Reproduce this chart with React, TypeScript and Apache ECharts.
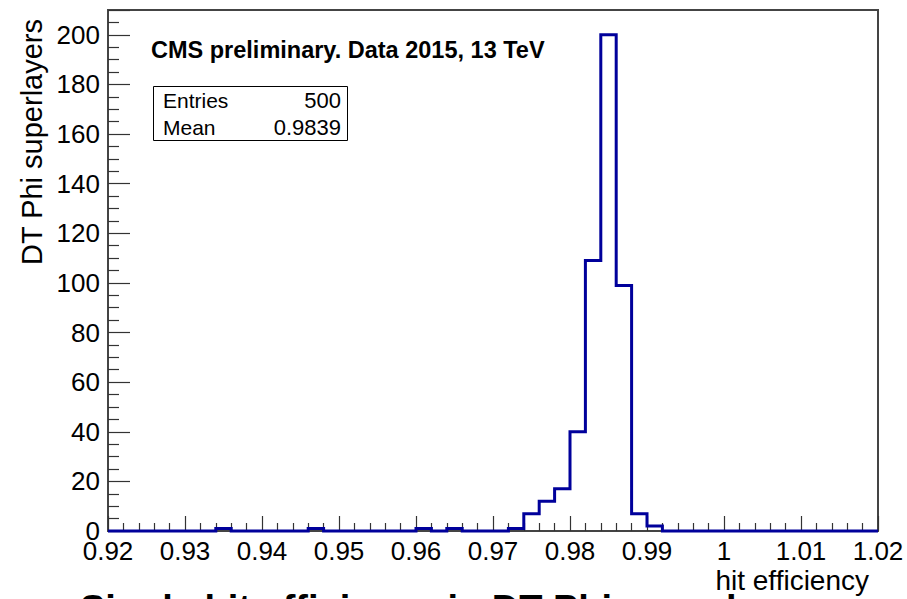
import React, { useEffect, useRef } from "react";
import * as echarts from "echarts";

// Histogram binning: 50 bins of width 0.002 from 0.92 to 1.02
const binStart = 0.92;
const binWidth = 0.002;
const counts = [
  0, 0, 0, 0, 0, 0, 0, 1, 0, 0,
  0, 0, 0, 1, 0, 0, 0, 0, 0, 0,
  1, 0, 1, 0, 0, 0, 1, 7, 12, 17,
  40, 109, 200, 99, 7, 2, 0, 0, 0, 0,
  0, 0, 0, 0, 0, 0, 0, 0, 0, 0,
];

const xTickLabels = ["0.92", "0.93", "0.94", "0.95", "0.96", "0.97", "0.98", "0.99", "1", "1.01", "1.02"];
const statsRows = [
  ["Entries", "500"],
  ["Mean", "0.9839"],
];

const FONT = "'Liberation Sans', Arial, Helvetica, sans-serif";

export default function App() {
  const ref = useRef<HTMLDivElement>(null);

  useEffect(() => {
    if (!ref.current) return;
    const chart = echarts.init(ref.current, null, { renderer: "svg" });

    // outline of the histogram: two corners per bin
    const outline: number[][] = [];
    counts.forEach((c, i) => {
      const lo = +(binStart + i * binWidth).toFixed(4);
      const hi = +(binStart + (i + 1) * binWidth).toFixed(4);
      outline.push([lo, c], [hi, c]);
    });

    const statsGraphics: any[] = [
      {
        type: "rect",
        shape: { x: 153.5, y: 86.5, width: 194, height: 54 },
        style: { fill: "none", stroke: "#000", lineWidth: 1 },
      },
    ];
    statsRows.forEach((row, k) => {
      const y = 100 + k * 27;
      statsGraphics.push(
        {
          type: "text",
          x: 163,
          y,
          style: { text: row[0], font: `21px ${FONT}`, fill: "#000", align: "left", verticalAlign: "middle" },
        },
        {
          type: "text",
          x: 341,
          y,
          style: { text: row[1], font: `22px ${FONT}`, fill: "#000", align: "right", verticalAlign: "middle" },
        }
      );
    });

    chart.setOption({
      animation: false,
      backgroundColor: "#fff",
      grid: {
        left: 108,
        right: 29,
        top: 10,
        bottom: 68,
        show: true,
        borderColor: "#444",
        borderWidth: 2,
        backgroundColor: "transparent",
      },
      xAxis: {
        type: "value",
        min: 0.92,
        max: 1.02,
        interval: 0.01,
        axisLine: { show: false },
        axisTick: { show: true, inside: true, length: 15, lineStyle: { color: "#333", width: 1.2 } },
        minorTick: { show: true, splitNumber: 5, length: 8, lineStyle: { color: "#333", width: 1.2 } },
        splitLine: { show: false },
        axisLabel: {
          margin: 7,
          color: "#000",
          fontFamily: FONT,
          fontSize: 26,
          formatter: (v: number) => {
            const idx = Math.round((v - 0.92) / 0.01);
            return xTickLabels[idx] ?? "";
          },
        },
      },
      yAxis: {
        type: "value",
        min: 0,
        max: 210,
        interval: 20,
        axisLine: { show: false },
        axisTick: { show: true, inside: true, length: 22, lineStyle: { color: "#333", width: 1.2 } },
        minorTick: { show: true, splitNumber: 4, length: 11, lineStyle: { color: "#333", width: 1.2 } },
        splitLine: { show: false },
        axisLabel: {
          margin: 8,
          color: "#000",
          fontFamily: FONT,
          fontSize: 26,
          formatter: (v: number) => (v > 200 ? "" : String(v)),
        },
      },
      series: [
        {
          type: "line",
          data: outline,
          showSymbol: false,
          symbol: "none",
          clip: false,
          lineStyle: { color: "#00009b", width: 3, join: "miter" },
          z: 5,
        },
      ],
      graphic: [
        {
          type: "text",
          x: 151,
          y: 50,
          style: {
            text: "CMS preliminary. Data 2015, 13 TeV",
            font: `bold 23.5px ${FONT}`,
            fill: "#000",
            verticalAlign: "middle",
          },
        },
        ...statsGraphics,
        {
          type: "text",
          x: 32,
          y: 19,
          rotation: Math.PI / 2,
          style: {
            text: "DT Phi superlayers",
            font: `29px ${FONT}`,
            fill: "#000",
            align: "right",
            verticalAlign: "middle",
          },
        },
        {
          type: "text",
          x: 869,
          y: 580,
          style: {
            text: "hit efficiency",
            font: `28px ${FONT}`,
            fill: "#000",
            align: "right",
            verticalAlign: "middle",
          },
        },
        {
          type: "text",
          x: 80,
          y: 590,
          style: {
            text: "Single hit efficiency in DT Phi superlayers",
            font: `bold 38px ${FONT}`,
            fill: "#000",
            verticalAlign: "top",
          },
        },
      ],
    });

    return () => chart.dispose();
  }, []);

  return (
    <div
      ref={ref}
      style={{ position: "fixed", left: 0, top: 0, width: 907, height: 599, background: "#fff" }}
    />
  );
}
